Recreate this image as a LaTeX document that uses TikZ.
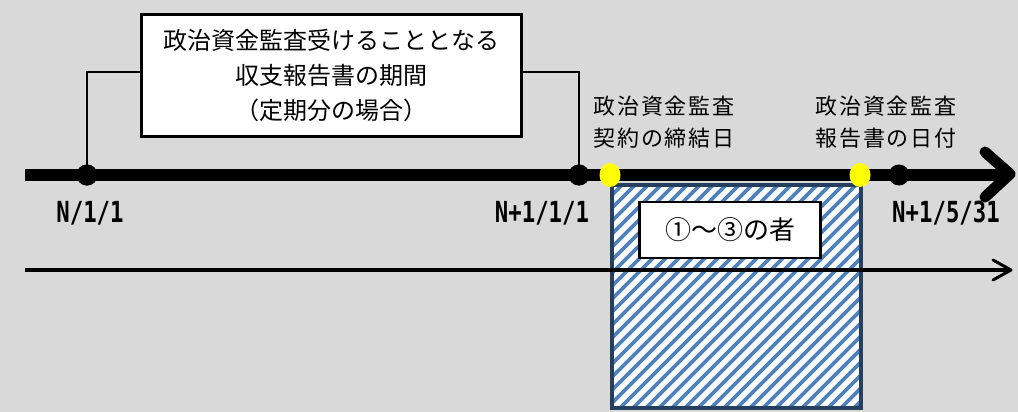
\documentclass[tikz,border=0pt]{standalone}
\usepackage{fontspec}
\setmainfont{Noto Sans CJK JP}
\newfontfamily\latinb[FakeStretch=0.77]{DejaVu Sans Mono}
\usetikzlibrary{shapes.geometric}
\definecolor{bg}{HTML}{D9D9D9}
\definecolor{hatchblue}{HTML}{4F81BD}
\definecolor{navy}{HTML}{243F60}
\definecolor{dotyel}{HTML}{FFFF00}
\tikzset{
  bdot/.style={circle, fill=black, inner sep=0pt, minimum size=21pt},
  ydot/.style={ellipse, fill=dotyel, inner sep=0pt, minimum width=21pt, minimum height=24pt},
  datelbl/.style={font=\latinb\bfseries\fontsize{29}{29}\selectfont, inner sep=0pt},
  toplbl/.style={font=\addfontfeature{LetterSpace=8}\fontsize{22}{32}\selectfont, align=center, inner sep=0pt},
  bracket/.style={line width=2.5pt},
}
\begin{document}
\begin{tikzpicture}[x=1pt,y=-1pt]
\fill[bg] (0,0) rectangle (1018,412);
\useasboundingbox (0,0) rectangle (1018,412);

% hatched period
\coordinate (hA) at (612,185);
\coordinate (hB) at (861,408);
\fill[white] (hA) rectangle (hB);
\begin{scope}
\clip (hA) rectangle (hB);
\foreach \i in {0,13,...,520} \draw[hatchblue, line width=3.6pt] (382+\i,412) -- ++(235,-235);
\end{scope}
\draw[navy, line width=4pt] (hA) rectangle (hB);

% thin arrow
\coordinate (ts) at (25,270);
\coordinate (te) at (1011,270);
\coordinate (tu) at (993,260);
\coordinate (td) at (993,280);
\draw[line width=3.5pt] (ts) -- (te);
\draw[line width=3pt, line cap=round, line join=round] (tu) -- (te) -- (td);

% dots on main line
\coordinate (ms) at (25,175);
\coordinate (me) at (1004,175);
\coordinate (tip) at (1010,174);
\coordinate (au) at (985,152);
\coordinate (ad) at (985,197);
\coordinate (bl) at (140,72);
\coordinate (br) at (523,72);
\node[bdot] (d1) at (87,175) {};
\node[bdot] (d2) at (579,175) {};

% bracket
\draw[bracket] (d1.center) |- (bl);
\draw[bracket] (d2.center) |- (br);

% main line
\draw[line width=12pt] (ms) -- (me);
\draw[line width=11pt, line cap=round, line join=round] (au) -- (tip) -- (ad);

\node[bdot] at (d1) {};
\node[bdot] at (d2) {};
\node[bdot] (d3) at (899,175) {};
\node[ydot] (y1) at (610,175) {};
\node[ydot] (y2) at (860,175) {};

% top box
\node[draw, line width=3pt, fill=white, minimum width=380pt, minimum height=122pt, align=center, inner sep=0pt,
      font=\fontsize{24}{35}\selectfont] (tb) at (331.5,75.5)
  {政治資金監査受けることとなる\\収支報告書の期間\\（定期分の場合）};

% date labels
\node[datelbl] (l1) at (90,213) {N/1/1};
\node[datelbl] (l2) at (542,213) {N+1/1/1};
\node[datelbl] (l3) at (946,213) {N+1/5/31};

% upper labels
\node[toplbl] (u1) at (664,122) {政治資金監査\\契約の締結日};
\node[toplbl] (u2) at (886,122) {政治資金監査\\報告書の日付};

% small box
\node[draw, line width=2.5pt, fill=white, minimum width=181pt, minimum height=56pt, inner sep=0pt,
      font=\fontsize{26}{26}\selectfont] (sb) at (730,230) {①〜③の者};
\end{tikzpicture}
\end{document}
